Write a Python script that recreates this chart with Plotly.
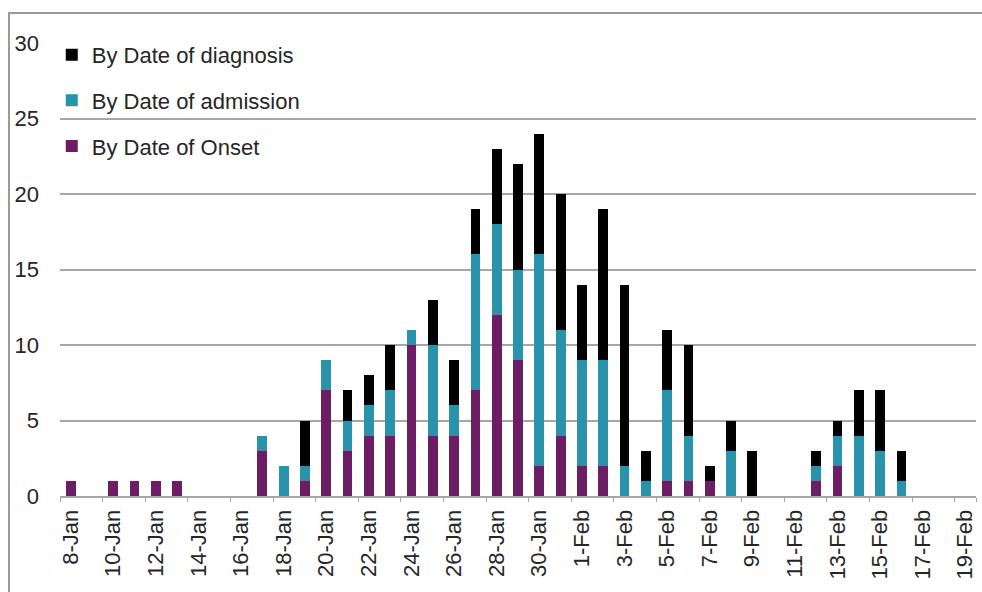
import plotly.graph_objects as go

dates = ["8-Jan", "9-Jan", "10-Jan", "11-Jan", "12-Jan", "13-Jan", "14-Jan", "15-Jan",
         "16-Jan", "17-Jan", "18-Jan", "19-Jan", "20-Jan", "21-Jan", "22-Jan", "23-Jan",
         "24-Jan", "25-Jan", "26-Jan", "27-Jan", "28-Jan", "29-Jan", "30-Jan", "31-Jan",
         "1-Feb", "2-Feb", "3-Feb", "4-Feb", "5-Feb", "6-Feb", "7-Feb", "8-Feb",
         "9-Feb", "10-Feb", "11-Feb", "12-Feb", "13-Feb", "14-Feb", "15-Feb", "16-Feb",
         "17-Feb", "18-Feb", "19-Feb"]

onset = [1, 0, 1, 1, 1, 1, 0, 0,
         0, 3, 0, 1, 7, 3, 4, 4,
         10, 4, 4, 7, 12, 9, 2, 4,
         2, 2, 0, 0, 1, 1, 1, 0,
         0, 0, 0, 1, 2, 0, 0, 0,
         0, 0, 0]

admission = [0, 0, 0, 0, 0, 0, 0, 0,
             0, 1, 2, 1, 2, 2, 2, 3,
             1, 6, 2, 9, 6, 6, 14, 7,
             7, 7, 2, 1, 6, 3, 0, 3,
             0, 0, 0, 1, 2, 4, 3, 1,
             0, 0, 0]

diagnosis = [0, 0, 0, 0, 0, 0, 0, 0,
             0, 0, 0, 3, 0, 2, 2, 3,
             0, 3, 3, 3, 5, 7, 8, 9,
             5, 10, 12, 2, 4, 6, 1, 2,
             3, 0, 0, 1, 1, 3, 4, 2,
             0, 0, 0]

tick_dates = dates[::2]
y_ticks = [0, 5, 10, 15, 20, 25, 30]

FONT = "Liberation Sans, Arial, sans-serif"
TXT = "#262626"
FS = 22

fig = go.Figure()
fig.add_trace(go.Bar(x=dates, y=onset, name="By Date of Onset",
                     marker=dict(color="#6c1d64", line=dict(width=0)),
                     legendgroup="onset", legendrank=3))
fig.add_trace(go.Bar(x=dates, y=admission, name="By Date of admission",
                     marker=dict(color="#2893aa", line=dict(width=0)),
                     legendgroup="admission", legendrank=2))
fig.add_trace(go.Bar(x=dates, y=diagnosis, name="By Date of diagnosis",
                     marker=dict(color="#000000", line=dict(width=0)),
                     legendgroup="diagnosis", legendrank=1))

fig.update_layout(
    width=982, height=592,
    margin=dict(l=60, r=6, t=43, b=96, autoexpand=False),
    barmode="stack",
    bargap=0.54,
    paper_bgcolor="white",
    plot_bgcolor="white",
    font=dict(family=FONT, size=FS, color=TXT),
    showlegend=True,
    legend=dict(
        x=-0.009, y=1.02, xanchor="left", yanchor="top",
        traceorder="grouped", tracegroupgap=14,
        bgcolor="rgba(0,0,0,0)",
        font=dict(family=FONT, size=FS, color=TXT),
    ),
    xaxis=dict(
        type="category",
        categoryorder="array", categoryarray=dates,
        tickmode="array", tickvals=tick_dates, ticktext=tick_dates,
        tickangle=-90,
        tickson="boundaries",
        ticks="outside", ticklen=4, tickcolor="#a6a6a6",
        ticklabelstandoff=3,
        showline=True, linecolor="#a6a6a6", linewidth=2,
        showgrid=False, zeroline=False,
        tickfont=dict(family=FONT, size=FS, color=TXT),
        range=[-0.5, len(dates) - 0.5],
        automargin=False,
    ),
    yaxis=dict(
        range=[0, 30],
        tickmode="array", tickvals=y_ticks,
        showgrid=True, gridcolor="#a6a6a6", gridwidth=2,
        zeroline=False, showline=False,
        ticks="", ticklabelstandoff=20,
        tickfont=dict(family=FONT, size=FS, color=TXT),
        automargin=False,
    ),
    shapes=[
        dict(type="rect", xref="paper", yref="paper",
             x0=-0.0557, x1=1.2, y0=-0.4, y1=1.0662,
             line=dict(color="#9a9a9a", width=2), fillcolor="rgba(0,0,0,0)",
             layer="below"),
    ],
)

fig.write_html(
    "out.html",
    config={"displayModeBar": False},
    post_script="document.body.style.margin='0';document.body.style.overflow='hidden';"
                "document.documentElement.style.overflow='hidden';",
)
